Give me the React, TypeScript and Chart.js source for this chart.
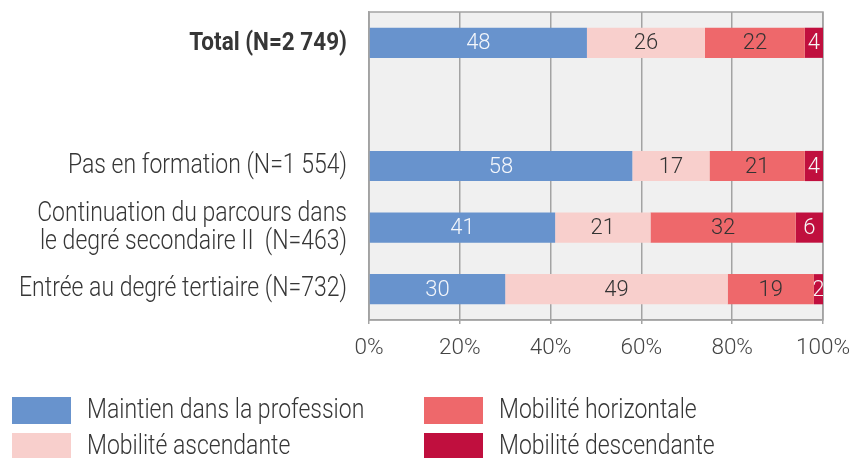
import React, { useEffect, useRef } from "react";
import { Chart, registerables } from "chart.js";

Chart.register(...registerables);

const categories: (string | string[])[] = [
  "Total (N=2 749)",
  "",
  "Pas en formation (N=1 554)",
  ["Continuation du parcours dans", "le degré secondaire II  (N=463)"],
  "Entrée au degré tertiaire (N=732)",
];
const seriesNames = [
  "Maintien dans la profession",
  "Mobilité ascendante",
  "Mobilité horizontale",
  "Mobilité descendante",
];
const maintien = [48, null, 58, 41, 30];
const ascendante = [26, null, 17, 21, 49];
const horizontale = [22, null, 21, 32, 19];
const descendante = [4, null, 4, 6, 2];
const xTickValues = [0, 20, 40, 60, 80, 100];

const seriesColors = ["#6893cd", "#f8cfcc", "#ee686b", "#c00f3e"];
const valueLabelColors = ["#f3f6fb", "#333333", "#333333", "#f6f6f6"];

const FONT = "Roboto";
const SIZE = 23;
const STRETCH = 1.18;
const TEXT = "#363636";
const GRID = "#a3a3a3";

function drawStretched(
  ctx: CanvasRenderingContext2D,
  text: string,
  x: number,
  y: number,
  align: CanvasTextAlign,
  font: string,
  color: string
) {
  ctx.save();
  ctx.translate(x, y);
  ctx.scale(1, STRETCH);
  ctx.font = font;
  ctx.fillStyle = color;
  ctx.textAlign = align;
  ctx.textBaseline = "middle";
  ctx.fillText(text, 0, 0);
  ctx.restore();
}

const framePlugin = {
  id: "frame",
  beforeDraw(chart: any) {
    const { ctx, chartArea: a } = chart;
    ctx.save();
    ctx.fillStyle = "#f0f0f0";
    ctx.fillRect(a.left, a.top, a.right - a.left, a.bottom - a.top);
    ctx.restore();
  },
  beforeDatasetsDraw(chart: any) {
    const { ctx, chartArea: a } = chart;
    ctx.save();
    ctx.strokeStyle = GRID;
    ctx.lineWidth = 1.5;
    ctx.strokeRect(a.left, a.top, a.right - a.left, a.bottom - a.top);
    ctx.restore();
  },
};

const valueLabelPlugin = {
  id: "valueLabels",
  afterDatasetsDraw(chart: any) {
    const { ctx } = chart;
    chart.data.datasets.forEach((ds: any, di: number) => {
      const meta = chart.getDatasetMeta(di);
      meta.data.forEach((el: any, i: number) => {
        const v = ds.data[i];
        if (v === null || v === undefined) return;
        const p = el.getProps(["x", "y", "base", "height"], true);
        const left = Math.min(p.x, p.base);
        const right = Math.max(p.x, p.base);
        ctx.save();
        ctx.beginPath();
        ctx.rect(left, p.y - p.height / 2, right - left, p.height);
        ctx.clip();
        ctx.font = `300 22px ${FONT}`;
        ctx.fillStyle = valueLabelColors[di];
        ctx.textAlign = "center";
        ctx.textBaseline = "middle";
        ctx.fillText(String(v), (left + right) / 2, p.y + 1);
        ctx.restore();
      });
    });
  },
};

const categoryLabelPlugin = {
  id: "categoryLabels",
  afterDraw(chart: any) {
    const { ctx } = chart;
    const yScale = chart.scales.y;
    const xRight = yScale.right - 22;
    const lineGap = 28;
    (chart.data.labels as any[]).forEach((lab: any, i: number) => {
      const cy = yScale.getPixelForValue(i);
      const lines: string[] = Array.isArray(lab) ? lab : [lab];
      const font =
        i === 0 ? `bold 22.5px ${FONT}` : `300 ${SIZE}px ${FONT}`;
      lines.forEach((ln, k) => {
        if (!ln) return;
        const y = cy + (k - (lines.length - 1) / 2) * lineGap + 0.5;
        drawStretched(ctx, ln, xRight, y, "right", font, TEXT);
      });
    });
  },
};

const legendPlugin = {
  id: "customLegend",
  afterDraw(chart: any) {
    const { ctx } = chart;
    const colX = [12, 424];
    const rowY = [397, 433];
    chart.data.datasets.forEach((ds: any, di: number) => {
      const col = Math.floor(di / 2);
      const row = di % 2;
      const x = colX[col];
      const y = rowY[row];
      ctx.save();
      ctx.fillStyle = ds.backgroundColor;
      ctx.fillRect(x, y, 59, 27);
      ctx.restore();
      drawStretched(ctx, ds.label, x + 75, y + 14, "left", `300 ${SIZE}px ${FONT}`, TEXT);
    });
  },
};

export default function App() {
  const ref = useRef<HTMLCanvasElement>(null);

  useEffect(() => {
    if (!ref.current) return;
    const seriesData = [maintien, ascendante, horizontale, descendante];
    const chart = new Chart(ref.current, {
      type: "bar",
      data: {
        labels: categories as any,
        datasets: seriesData.map((d, i) => ({
          label: seriesNames[i],
          data: d as any,
          backgroundColor: seriesColors[i],
          borderWidth: 0,
          barPercentage: 0.49,
          categoryPercentage: 1,
        })),
      },
      options: {
        indexAxis: "y",
        animation: false,
        responsive: true,
        maintainAspectRatio: false,
        layout: { padding: { left: 0, right: 29, top: 12, bottom: 90 } },
        plugins: {
          legend: { display: false },
          tooltip: { enabled: false },
        },
        scales: {
          x: {
            stacked: true,
            min: 0,
            max: 100,
            afterBuildTicks: (scale: any) => {
              scale.ticks = xTickValues.map((v) => ({ value: v }));
            },
            afterFit: (scale: any) => {
              scale.height = 48;
              scale.paddingLeft = 0;
              scale.paddingRight = 0;
            },
            grid: {
              color: GRID,
              lineWidth: 1.5,
              tickLength: 4,
              drawTicks: true,
            },
            border: { display: true, color: GRID, width: 1.5 },
            ticks: {
              padding: 11,
              color: "#444444",
              font: { family: FONT, size: 22.5, weight: "300" as any },
              callback: (v: any) => `${v}%`,
            },
          },
          y: {
            stacked: true,
            afterFit: (scale: any) => {
              scale.width = 369;
              scale.paddingTop = 0;
              scale.paddingBottom = 0;
            },
            grid: { display: false, drawTicks: false },
            border: { display: true, color: GRID, width: 1.5 },
            ticks: {
              padding: 22,
              color: "rgba(0,0,0,0)",
              font: { family: FONT, size: SIZE, weight: "300" as any, lineHeight: 1.2 },
            },
          },
        },
      },
      plugins: [framePlugin, valueLabelPlugin, categoryLabelPlugin, legendPlugin],
    });
    return () => chart.destroy();
  }, []);

  return (
    <div style={{ position: "absolute", left: 0, top: 0, width: 852, height: 458 }}>
      <canvas ref={ref} />
    </div>
  );
}
